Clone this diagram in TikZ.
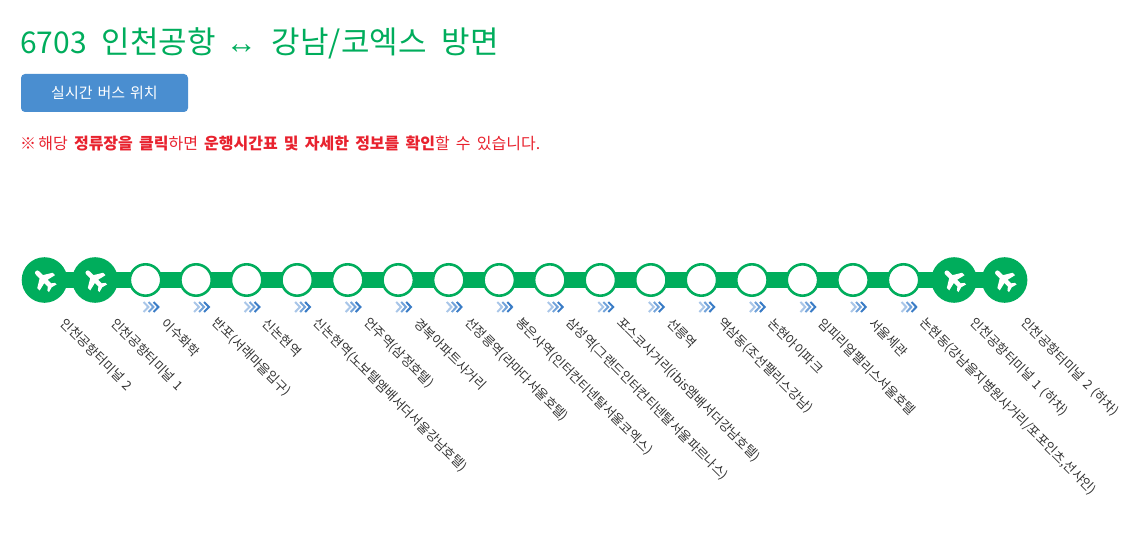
\documentclass[tikz,border=0pt]{standalone}
\usepackage{fontspec}
\setmainfont{Noto Sans CJK KR}
\newfontfamily\arrowfont{Liberation Sans}
\newcommand{\wsp}[1]{\spaceskip #1\relax\xspaceskip #1\relax}
\definecolor{routegreen}{HTML}{00AD5C}
\definecolor{btnblue}{HTML}{4A8ED0}
\definecolor{notered}{HTML}{E8222E}
\definecolor{labelgrey}{HTML}{333333}
\definecolor{chevA}{HTML}{A9C6E8}
\definecolor{chevB}{HTML}{73A3DA}
\definecolor{chevC}{HTML}{3A7CC6}
\tikzset{
  x=1pt,y=-1pt,
  bigstop/.style={circle,fill=routegreen,minimum size=45.6pt,inner sep=0pt},
  smallstop/.style={circle,draw=routegreen,line width=2.6pt,fill=white,minimum size=31.4pt,inner sep=0pt},
  stoplabel/.style={rotate=-45,anchor=west,inner sep=0pt,font=\fontsize{12.9}{13}\selectfont,text=labelgrey},
  routeline/.style={draw=routegreen,line width=16pt},
  chev/.style={line width=2pt,line cap=butt,line join=miter},
}
\newcommand{\planeicon}[1]{%
  \fill[white,shift={(#1)},rotate=135,x=1pt,y=1pt]
    (12.5,0) .. controls (12.5,1.6) and (11.4,2.3) .. (10,2.3)
    -- (4.6,2.3) -- (-0.6,10.8) -- (-4,10.8) -- (-2,2.3) -- (-7,2.3)
    -- (-9.5,5.4) -- (-11.7,5.4) -- (-10.2,0)
    -- (-11.7,-5.4) -- (-9.5,-5.4) -- (-7,-2.3) -- (-2,-2.3)
    -- (-4,-10.8) -- (-0.6,-10.8) -- (4.6,-2.3) -- (10,-2.3)
    .. controls (11.4,-2.3) and (12.5,-1.6) .. (12.5,0) -- cycle;}
\newcommand{\chevrons}[1]{%
  \begin{scope}[shift={(#1)}]
    \draw[chev,chevA] (-8,-5) -- (-3.2,0) -- (-8,5);
    \draw[chev,chevB] (-3,-5) -- (1.8,0) -- (-3,5);
    \draw[chev,chevC] (2,-5) -- (6.8,0) -- (2,5);
  \end{scope}}
\begin{document}
\begin{tikzpicture}
\useasboundingbox (0,0) rectangle (1140,556);
\node[anchor=base west,inner sep=0pt,text=routegreen,font=\fontsize{31}{31}\selectfont] (title) at (20,54) {\wsp{15pt}{\fontsize{30}{30}\selectfont 6703} 인천공항 \hspace{-5pt}{\arrowfont ↔} 강남/코엑스 방면};
\node[fill=btnblue,rounded corners=4pt,minimum width=167pt,minimum height=38pt,inner sep=0pt,text=white,font=\fontsize{15}{15}\selectfont] (btn) at (104.5,93) {\wsp{5pt}실시간 버스 위치};
\node[anchor=west,inner sep=0pt,text=notered,font=\fontsize{16}{16}\selectfont] (note) at (20,143) {\wsp{6.2pt}※ \hspace{-4pt}해당 \textbf{정류장을 클릭}하면 \textbf{운행시간표 및 자세한 정보를 확인}할 수 있습니다.};

\coordinate (rs) at (44.5,280);
\coordinate (re) at (1004.5,280);
\draw[routeline] (rs) -- (re);

\foreach \i/\lab [count=\n from 0] in {%
  1/{인천공항터미널 2},2/{인천공항터미널 1},3/{이수화학},4/{반포(서래마을입구)},5/{신논현역},
  6/{신논현역(노보텔앰배서더서울강남호텔)},7/{언주역(삼정호텔)},8/{경복아파트사거리},9/{선정릉역(라마다서울호텔)},
  10/{봉은사역(인터컨티넨탈서울코엑스)},11/{삼성역(그랜드인터컨티넨탈서울파르나스)},12/{포스코사거리(ibis앰배서더강남호텔)},
  13/{선릉역},14/{역삼동(조선팰리스강남)},15/{논현아이파크},16/{임피리얼팰리스서울호텔},17/{서울세관},
  18/{논현동(강남을지병원사거리/포포인츠,선샤인)},19/{인천공항터미널 1 (하차)},20/{인천공항터미널 2 (하차)}}{
  \pgfmathsetmacro{\xx}{44.5+50.53*\n}
  \ifnum\i<3 \node[bigstop] (s\i) at (\xx,280) {};
  \else\ifnum\i>18 \node[bigstop] (s\i) at (\xx,280) {};
  \else \node[smallstop] (s\i) at (\xx,280) {};
  \fi\fi
  \ifnum\i<3 \planeicon{\xx,280}\fi
  \ifnum\i>18 \planeicon{\xx,280}\fi
  \ifnum\i>2 \ifnum\i<19 \pgfmathsetmacro{\cx}{\xx+6}\chevrons{\cx,307}\fi\fi
  \pgfmathsetmacro{\lx}{\xx+18.5}
  \node[stoplabel] (l\i) at (\lx,320.5) {\wsp{4.5pt}\lab};
}
\end{tikzpicture}
\end{document}
